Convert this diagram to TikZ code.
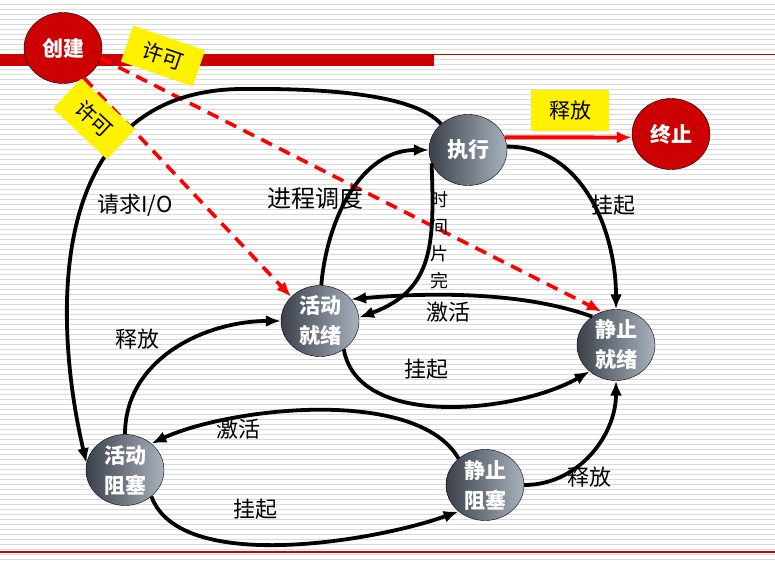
\documentclass[tikz,border=0pt]{standalone}
\usepackage{fontspec}
\setmainfont{Noto Sans CJK SC}
\usepackage{tikz}
\usetikzlibrary{arrows.meta}
\usetikzlibrary{shapes.geometric}
\definecolor{deepred}{HTML}{CC0000}
\definecolor{stategray}{HTML}{3A414B}
\definecolor{statelight}{HTML}{A8B2BD}
\definecolor{ruleline}{HTML}{DADADA}
\tikzset{>=latex}
\tikzstyle{state} = [ellipse, draw = black, thin, minimum width = 78pt, minimum height = 71pt, inner sep = 0, left color = stategray, right color = statelight, text = white, align = center, font = \fontsize{21}{30}\selectfont\bfseries]
\tikzstyle{endstate} = [ellipse, draw = black, thin, minimum width = 78pt, minimum height = 71pt, inner sep = 0, fill = deepred, text = white, font = \fontsize{21}{24}\selectfont\bfseries]
\tikzstyle{move} = [-{Latex[length = 15pt, width = 12pt]}, line width = 3.8pt, draw = black]
\tikzstyle{grant} = [-{Latex[length = 15pt, width = 12pt]}, line width = 3.6pt, draw = red, dash pattern = on 12pt off 8pt]
\tikzstyle{quit} = [-{Latex[length = 15pt, width = 12pt]}, line width = 3.8pt, draw = red]
\tikzstyle{tag} = [draw = none, inner sep = 1, font = \fontsize{22}{26}\selectfont]
\tikzstyle{note} = [fill = yellow, minimum width = 76pt, minimum height = 38pt, inner sep = 0, font = \fontsize{21}{24}\selectfont]

\begin{document}
\begin{tikzpicture}[x = 1pt, y = -1pt]
\useasboundingbox (0, 0) rectangle (775, 561);
\foreach \k in {0, ..., 111}
  \draw [ruleline, line width = 1.2pt] (0, 4.5 + 5*\k) -- (775, 4.5 + 5*\k);
\fill [deepred] (0, 54) rectangle (434, 66);
\draw [deepred, line width = 1.2pt] (434, 54.5) -- (775, 54.5);
\draw [deepred, line width = 1.2pt] (0, 552) -- (775, 552);

\node [endstate] (cj) at (63, 48) {创建};
\node [endstate] (zz) at (671, 134) {终止};
\node [state] (zx) at (468, 150) {执行};
\node [state] (hjx) at (320, 321) {活动\\就绪};
\node [state] (jjx) at (616, 345) {静止\\就绪};
\node [state] (hzs) at (125, 470) {活动\\阻塞};
\node [state] (jzs) at (485, 485) {静止\\阻塞};

\draw [grant] (cj.-55) -- (hjx.140);
\draw [grant] (cj.-15) -- (jjx.113);
\draw [quit] (zx.19) -- (zz.185);
\draw [move] (zx.136) .. controls (415, 95) and (330, 88) .. (240, 89) .. controls (40, 92) and (55, 330) .. (hzs.170);
\draw [move] (hjx.88) to [out = 85, in = 180] (zx.180);
\draw [move] (zx.200) to [out = -88, in = 20, looseness = 1.2] (hjx.5);
\draw [move] (jjx.130) to [out = 160, in = 5, looseness = 0.8] (hjx.35);
\draw [move] (hjx.-50) to [out = -80, in = -150, looseness = 0.85] (jjx.-135);
\draw [move] (zx.5) to [out = 0, in = 90] (jjx.90);
\draw [move] (hzs.90) to [out = 90, in = 180] (hjx.180);
\draw [move] (jzs.135) to [out = 120, in = 25, looseness = 0.7] (hzs.45);
\draw [move] (hzs.-45) to [out = -70, in = -160, looseness = 0.7] (jzs.-135);
\draw [move] (jzs.0) to [out = 0, in = -90] (jjx.-90);

\node [note, rotate = -19] (xk1) at (163, 56) {许可};
\node [note, rotate = -43, minimum width = 74pt, minimum height = 41pt] (xk2) at (94, 119) {许可};
\node [note, minimum width = 78pt, minimum height = 41pt] (sf0) at (570, 111) {释放};

\node [tag] (qq) at (135, 205) {请求I/O};
\node [tag, font = \fontsize{24}{28}\selectfont] (jc) at (315, 198) {进程调度};
\node [tag, align = center, font = \fontsize{18}{27}\selectfont] (sj) at (439, 240) {时\\间\\片\\完};
\node [tag] (jh1) at (448, 312) {激活};
\node [tag] (gq1) at (613, 205) {挂起};
\node [tag] (gq2) at (426, 369) {挂起};
\node [tag] (sf1) at (137, 339) {释放};
\node [tag] (jh2) at (238, 429) {激活};
\node [tag] (gq3) at (255, 509) {挂起};
\node [tag] (sf2) at (589, 477) {释放};
\end{tikzpicture}
\end{document}
